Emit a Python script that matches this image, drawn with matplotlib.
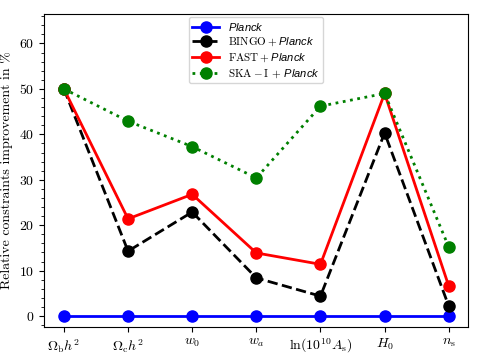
import numpy as np
import matplotlib
matplotlib.use("Agg")
import matplotlib.pyplot as plt
from matplotlib.ticker import MultipleLocator
from matplotlib.font_manager import FontProperties

plt.rcParams['font.family'] = 'serif'
plt.rcParams['font.serif'] = ['cmr10']
plt.rcParams['axes.formatter.use_mathtext'] = True
plt.rcParams['mathtext.fontset'] = 'cm'
# custom set used only for the legend (roman text + sans italic "Planck")
plt.rcParams['mathtext.rm'] = 'cmr10'
plt.rcParams['mathtext.it'] = 'cmmi10'
plt.rcParams['mathtext.bf'] = 'cmb10'
plt.rcParams['mathtext.sf'] = 'Liberation Sans:italic'

params = [r'$\Omega_{\mathrm{b}}h^2$', r'$\Omega_{\mathrm{c}}h^2$', r'$w_0$', r'$w_a$',
          r'$\ln(10^{10}A_{\mathrm{s}})$', r'$H_0$', r'$n_{\mathrm{s}}$']

planck = [0, 0, 0, 0, 0, 0, 0]
bingo = [50.0, 14.3, 22.9, 8.4, 4.4, 40.3, 2.2]
fast = [50.0, 21.4, 26.8, 13.9, 11.4, 49.0, 6.6]
ska = [50.0, 42.9, 37.3, 30.4, 46.2, 49.0, 15.2]

x = np.arange(len(params))

fig = plt.figure(figsize=(4.8, 3.57), dpi=100)
ax = fig.add_axes([0.0917, 0.084, 0.8833, 0.877])

ax.plot(x, planck, '-o', color='blue', lw=2, ms=8, label=r'$\mathsf{Planck}$')
ax.plot(x, bingo, '--o', color='black', lw=2, ms=8, label=r'$\mathrm{BINGO}\:+\:\mathsf{Planck}$')
ax.plot(x, fast, '-o', color='red', lw=2, ms=8, label=r'$\mathrm{FAST}\:+\:\mathsf{Planck}$')
ax.plot(x, ska, ':o', color='green', lw=2, ms=8, label=r'$\mathrm{SKA}\:-\,\mathrm{I}\,+\:\mathsf{Planck}$')

ax.set_xticks(x)
ax.set_xticklabels(params)
ax.set_xlim(-0.31, 6.3)
ax.set_ylim(-2.4, 66.5)
ax.yaxis.set_minor_locator(MultipleLocator(2))
ax.set_ylabel('Relative constraints improvement in %')

leg_font = FontProperties(family='serif', size=8, math_fontfamily='custom')
ax.legend(loc='upper center', prop=leg_font, labelspacing=0.3, borderpad=0.3,
          handlelength=2.4, borderaxespad=0.3)

plt.savefig('out.png', dpi=100)
